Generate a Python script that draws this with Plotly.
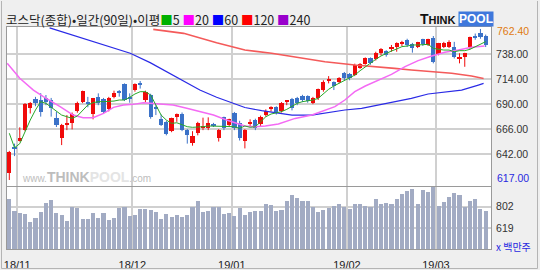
import plotly.graph_objects as go

# ---------------- data ----------------
opens = [623.4, 648, 655, 665, 686, 695, 694, 695.6, 694, 677, 657, 670.5, 671.5, 683.7, 692.4, 692,
         680.5, 697.2, 694.6, 685, 697.2, 702.6, 709, 696, 703.6, 709.4, 694, 698.8, 686.5, 675.4, 673,
         664, 678, 680.5, 665, 652.9, 662.5, 668, 666.7, 670.5, 657, 677.3, 670, 681.8, 671.5, 654.8,
         672, 674.7, 670.9, 679.5, 685.9, 686.9, 683.7, 692.7, 694.6, 696.2, 697.8, 697.8, 690.8, 695.6,
         703.6, 713, 711.6, 711, 719.7, 719, 718.1, 725, 729, 734, 733.2, 739, 741.5, 742.8, 745.4,
         747.6, 751.8, 747.9, 745.4, 752.4, 747, 753.4, 738.3, 745.4, 745.4, 745.4, 734, 735, 744.7,
         755.6, 758.8, 755.6]
highs = [645, 652, 667.7, 691, 692, 697, 700.6, 698.8, 696, 682.8, 671, 679.5, 682, 692.4, 703, 697,
         696, 700.4, 696, 697, 703, 703.6, 710, 700.4, 710, 712.3, 703, 700, 689, 680, 674,
         677, 681, 682, 666, 664, 673, 677, 677.3, 672, 666, 678, 676, 682.5, 674, 666,
         675.4, 676, 679, 685, 688, 688, 692, 694, 696, 697, 699, 698.5, 697, 705,
         713, 717, 712, 716, 721, 720, 729, 729.5, 735, 735, 740.5, 744, 742, 747, 749.5,
         751, 753, 749, 750, 753, 753, 755.6, 749, 750, 751.5, 750, 739, 739.5, 755,
         758, 762.4, 757]
lows = [617, 640, 654, 664, 681, 688, 678, 689, 678, 668, 650.6, 665, 665.7, 681.8, 691, 687,
        675.4, 689, 681, 683, 695.6, 697.2, 693, 691.4, 702, 705, 692, 676, 679.5, 669, 660,
        663, 673, 664, 652, 650, 660, 665, 665, 668, 654, 665, 668, 665, 655, 647.4,
        669, 665, 669, 678, 683, 680, 682, 689, 684, 689, 692, 691.4, 690, 694,
        702, 710, 703.6, 710, 713, 713, 717, 724, 728, 728, 732, 737, 735.7, 740.5, 740.5,
        746, 745, 739.6, 744, 746, 746, 729.3, 737, 744, 744, 734, 729.3, 726, 743,
        752, 753, 745]
closes = [644, 647, 657, 690, 691, 691, 682, 692.4, 686, 670, 670, 671.5, 681, 690.8, 702.6, 691.5,
          695.6, 691.4, 682.8, 695.6, 701, 700.4, 694, 695.6, 709.4, 709, 702, 677.3, 686, 670, 661.3,
          676.3, 680.5, 665, 660, 659.3, 671.5, 668.5, 672, 670, 665, 666.7, 675.4, 666.7, 657, 665,
          672.5, 666.7, 677.9, 683.7, 686.5, 681.8, 690.8, 693, 686, 690.8, 694, 693, 696.2, 704.2,
          711.6, 713.5, 707.8, 714.8, 714.8, 714.8, 727.7, 728.3, 734, 729.3, 739.6, 742.8, 737.3, 745.4, 748.6,
          750.2, 747, 743.7, 749.5, 747.9, 752.4, 730.9, 748.6, 748.6, 750.2, 735.7, 734.5, 739, 754.4,
          753.4, 755, 747]
volumes = [865, 766, 746, 740, 672, 709, 755, 831, 856, 746, 732, 681, 799, 791, 700, 700, 746, 709,
           746, 687, 709, 791, 799, 723, 732, 783, 783, 774, 757, 700, 740, 717, 732, 717, 732, 802,
           850, 755, 766, 802, 802, 740, 746, 723, 791, 732, 755, 766, 766, 827,
           814, 766, 774, 853, 901, 878, 853, 853, 802, 757, 774, 788, 810, 822, 802, 780, 822, 825,
           810, 802, 865, 825, 833, 825, 865, 907, 935, 952, 825, 943, 929, 971, 810, 842, 887, 916,
           901, 802, 853, 865, 783, 766]
ma5 = [662, 648, 652, 663.5, 674.7, 684.4, 692.4, 690.8, 686.9, 682.8, 679.5, 677.9, 676.3, 678.6,
       684.4, 689.2, 691.4, 692.4, 692.4, 692.4, 693, 694, 694, 696.6, 699.8, 702, 702, 698.8, 689.2,
       679.5, 674.7, 671.5, 672.1, 669.9, 668.3, 667.7, 667.7, 668.3, 669, 669, 668.3, 669, 669, 668.3,
       666.7, 669, 667.7, 668.3, 673, 677.9, 680.5, 681.8, 682.8, 685, 688.2, 690.8, 692.4, 693, 694,
       695.6, 699.8, 704.3, 707.5, 710, 712.6, 714.9, 718, 722.2, 726.1, 729.9, 733.2, 736.4, 739,
       741.2, 743.1, 745.4, 746, 747, 747, 747, 747.6, 743.7, 742.8, 742.1, 742.1, 740.5, 741.5, 741.5,
       742.8, 745.4, 747.9, 750.2]
ma20_x = [-0.4, 2, 4.6, 6.5, 9.7, 12.2, 14.1, 16, 18, 19.9, 21.8, 23.7, 25.6, 27.5, 29.4, 31.3, 33.9,
          36.4, 39, 41.5, 44, 45, 47, 48.9, 51.4, 54.6, 57.8, 60.3, 62.2, 64.1, 66, 68, 70.5, 73, 75.6,
          78.1, 80.7, 83.2, 85.8, 88.3, 90.8]
ma20_y = [729.3, 714.9, 703.6, 697.2, 687.6, 679.5, 677, 677, 681.1, 686.9, 689.2, 689.8, 691.4,
          690.8, 690.1, 689.2, 686, 682.8, 679.5, 674.7, 670.9, 669, 668.3, 669, 670.9, 676.3, 679.5,
          684.4, 687.6, 694, 702, 707.5, 713.2, 718.7, 726.1, 731.9, 736.4, 739.9, 742.1, 744.7, 746]
ma60_x = [7.7, 11, 14.8, 18.6, 23.1, 26.9, 30.1, 33.3, 36.4, 39.6, 42.8, 45, 48.2, 51.4, 54, 57.8,
          60.9, 64.1, 67.3, 70.5, 73.6, 76.8, 80, 83.2, 86.4, 89.6, 90.6]
ma60_y = [763.5, 758.2, 752.4, 746, 739, 730, 721.3, 712.3, 703.6, 696.6, 690.8, 686.8, 683.7,
          681.1, 679.5, 679.5, 681.8, 684.4, 686, 689.2, 692.4, 695.6, 699.8, 702, 703.6, 708.4, 710]
ma120_x = [27.5, 33.3, 39.6, 45, 50.1, 55.2, 60.3, 66, 70.5, 73.6, 76.8, 80.7, 84.5, 88.3, 90.6]
ma120_y = [762, 758.2, 749.2, 742.2, 739, 735.1, 730.9, 727.7, 726.1, 724.5, 722.9, 721.3, 719.7,
           717.1, 714.8]
month_pos = [1.5, 23.5, 42.5, 64.5, 81.5]
month_labels = ["18/11", "18/12", "19/01", "19/02", "19/03"]
price_ticks = [642, 666, 690, 714, 738]
vol_ticks = [619, 802]
max_high = 762.40
min_low = 617.00

# ---------------- styles ----------------
RED = "#f00a0a"
BLUE = "#3b72c8"
GRID = "#d0d0d0"
FRAME = "#9a9a9a"
n = len(opens)
idx = list(range(n))

fig = go.Figure()

# wicks + bodies
for up, col in ((True, RED), (False, BLUE)):
    sel = [i for i in idx if (closes[i] >= opens[i]) == up]
    wx, wy = [], []
    for i in sel:
        wx += [i, i, None]
        wy += [lows[i], highs[i], None]
    fig.add_trace(go.Scatter(x=wx, y=wy, mode="lines", line=dict(color=col, width=1),
                             hoverinfo="skip", xaxis="x", yaxis="y"))
    base, hgt = [], []
    for i in sel:
        lo, hi = min(opens[i], closes[i]), max(opens[i], closes[i])
        if hi - lo < 1.3:
            mid = (hi + lo) / 2
            lo, hi = mid - 0.65, mid + 0.65
        base.append(lo)
        hgt.append(hi - lo)
    fig.add_trace(go.Bar(x=sel, y=hgt, base=base, width=0.8, marker=dict(color=col, line=dict(width=0)),
                         xaxis="x", yaxis="y"))

# moving averages
fig.add_trace(go.Scatter(x=ma120_x, y=ma120_y, mode="lines", line=dict(color="#f45a5a", width=1.6),
                         xaxis="x", yaxis="y"))
fig.add_trace(go.Scatter(x=ma60_x, y=ma60_y, mode="lines", line=dict(color="#2a2ae6", width=1.2),
                         xaxis="x", yaxis="y"))
fig.add_trace(go.Scatter(x=ma20_x, y=ma20_y, mode="lines", line=dict(color="#f46af4", width=1.5),
                         xaxis="x", yaxis="y"))
fig.add_trace(go.Scatter(x=idx, y=ma5, mode="lines", line=dict(color="#28a828", width=1),
                         xaxis="x", yaxis="y"))

# volume
fig.add_trace(go.Bar(x=idx, y=volumes, width=0.78, marker=dict(color="#a2abc3", line=dict(width=0)),
                     xaxis="x2", yaxis="y2"))

L, R, T, B = 7, 49, 27, 21
W, H = 540, 270
PW, PH = W - L - R, H - T - B


def px2x(px):
    return (px - L) / PW


def py2y(py):
    return (H - B - py) / PH


sx0 = 9.3
step = 5.235
xr = [(L - sx0) / step, (W - R - sx0) / step]

axfont = dict(family="Liberation Sans, Arial", size=10.5, color="#333333")
common_x = dict(range=xr, tickvals=month_pos, showgrid=True, gridcolor=GRID, gridwidth=2,
                zeroline=False, showline=True, mirror=True, linecolor=FRAME, linewidth=1, ticks="",
                automargin=False)
common_y = dict(side="right", tickfont=axfont, ticks="", ticklabelstandoff=2, showgrid=True,
                gridcolor=GRID, gridwidth=2, zeroline=False, showline=True, mirror=True,
                linecolor=FRAME, linewidth=1, automargin=False)

fig.update_layout(
    width=W, height=H, margin=dict(l=L, r=R, t=T, b=B, pad=0, autoexpand=False),
    paper_bgcolor="#efefef", plot_bgcolor="#ffffff", showlegend=False,
    barmode="overlay", bargap=0,
    xaxis=dict(domain=[0, 1], anchor="y", showticklabels=False, **common_x),
    xaxis2=dict(domain=[0, 1], anchor="y2", matches="x", ticktext=month_labels,
                tickfont=dict(family="Liberation Sans, Arial", size=11, color="#222222"),
                ticklabelstandoff=6, **common_x),
    yaxis=dict(domain=[py2y(186), 1], range=[611.2, 764.3], tickvals=price_ticks,
               ticktext=[f"{v:.2f}" for v in price_ticks], **common_y),
    yaxis2=dict(domain=[0, py2y(187)], range=[443.7, 968.8], tickvals=vol_ticks,
                ticktext=[str(v) for v in vol_ticks], **common_y),
)

ann = []
# max / min labels
ann.append(dict(xref="paper", yref="y", x=px2x(495), y=max_high, yshift=-2, xanchor="left",
                text=f"{max_high:.2f}", showarrow=False,
                font=dict(family="Liberation Sans, Arial", size=10.5, color="#e07a10")))
ann.append(dict(xref="paper", yref="y", x=px2x(495), y=min_low, yshift=2, xanchor="left",
                text=f"{min_low:.2f}", showarrow=False,
                font=dict(family="Liberation Sans, Arial", size=10.5, color="#2828e0")))
ann.append(dict(xref="paper", yref="paper", x=px2x(494), y=py2y(246.5), xanchor="left",
                yanchor="middle", text="x 백만주", showarrow=False,
                font=dict(family="Noto Sans CJK KR", size=10, color="#2828e0")))
# title / legend
leg = ("코스닥(종합)•일간(90일)•이평"
       "<span style='color:#00b000'>■</span>5 "
       "<span style='color:#ff00ff'>■</span>20 "
       "<span style='color:#0000ff'>■</span>60 "
       "<span style='color:#ff0000'>■</span>120 "
       "<span style='color:#9900cc'>■</span>240")
ann.append(dict(xref="paper", yref="paper", x=px2x(4), y=py2y(19.5), xanchor="left", yanchor="middle",
                text=leg, showarrow=False,
                font=dict(family="Noto Sans CJK KR", size=12.5, color="#222222")))
# logo
ann.append(dict(xref="paper", yref="paper", x=px2x(458), y=py2y(19), xanchor="right", yanchor="middle",
                text="<b><span style='font-size:14px'>T</span>HINK</b>", showarrow=False,
                font=dict(family="Liberation Sans, Arial", size=11, color="#111111")))
ann.append(dict(xref="paper", yref="paper", x=px2x(458), y=py2y(19), xanchor="left", yanchor="middle",
                text="<b>POOL</b>", showarrow=False, bgcolor="#3f78dc", borderpad=0,
                font=dict(family="Liberation Sans, Arial", size=12, color="#ffffff")))
# watermark
ann.append(dict(xref="paper", yref="paper", x=px2x(20), y=py2y(177), xanchor="left", yanchor="middle",
                text="www.<b><span style='font-size:14px'>THINK</span><span style='font-size:14px;color:#e4e4e4'>POOL</span></b>.com",
                showarrow=False, font=dict(family="Liberation Sans, Arial", size=10, color="#bdbdbd")))
fig.update_layout(annotations=ann)

# outer frame lines (paper decoration)
for (x0, y0, x1, y1) in [(1.5, 1, 1.5, 268.5), (537.5, 1, 537.5, 268.5), (1.5, 268.5, 537.5, 268.5)]:
    fig.add_shape(type="line", xref="paper", yref="paper", x0=px2x(x0), y0=py2y(y0), x1=px2x(x1),
                  y1=py2y(y1), line=dict(color="#b4b4b4", width=1))

fig.write_html("out.html")
